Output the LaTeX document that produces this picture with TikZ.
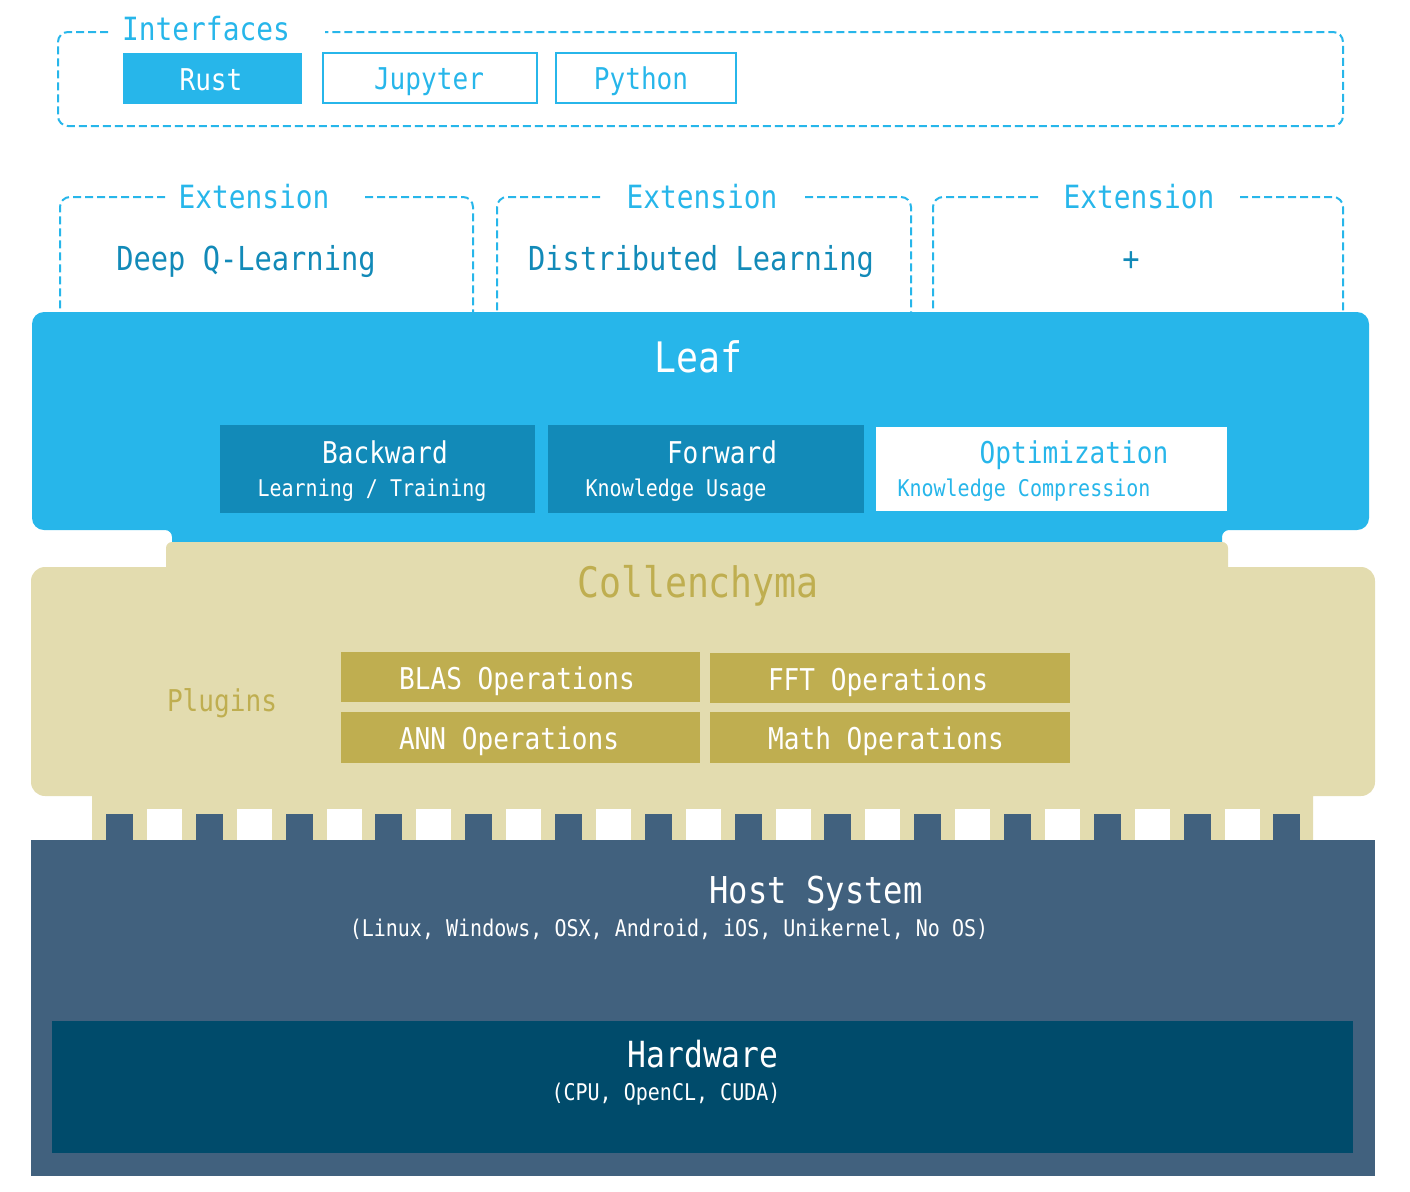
\documentclass[tikz,border=0pt]{standalone}
\usepackage{fontspec}
\newfontfamily\stackfont{DejaVu Sans Mono}[FakeStretch=0.87]
\newcommand{\fsz}[1]{\fontsize{#1}{#1}\selectfont}

\definecolor{leafblue}{HTML}{27B6EA}
\definecolor{leafdark}{HTML}{128AB8}
\definecolor{collbeige}{HTML}{E3DCAF}
\definecolor{collolive}{HTML}{BFAE50}
\definecolor{hostslate}{HTML}{41617E}
\definecolor{hwnavy}{HTML}{004B6B}

\tikzset{
  lbl/.style={inner sep=0pt, anchor=base},
  titletxt/.style={lbl, font=\stackfont\fsz{42}},
  headtxt/.style={lbl, font=\stackfont\fsz{32}},
  itemtxt/.style={lbl, font=\stackfont\fsz{30}},
  subtxt/.style={lbl, font=\stackfont\fsz{23}},
  hosttxt/.style={lbl, font=\stackfont\fsz{37}},
  frame/.style={draw=leafblue, line width=2pt, dash pattern=on 8pt off 4pt, rounded corners=10pt},
}

\begin{document}
\begin{tikzpicture}[x=1pt, y=-1pt]

  \useasboundingbox (0,0) rectangle (1410,1191);

  % Interfaces
  \draw[frame] (108,32) -- (58,32) -- (58,126) -- (1343,126) -- (1343,32) -- (325,32);
  \node[headtxt, text=leafblue] (interfaces) at (206,40) {Interfaces};

  \fill[leafblue] (123,53) rectangle (302,104);
  \draw[leafblue, line width=2pt] (323,53) rectangle (537,103);
  \draw[leafblue, line width=2pt] (556,53) rectangle (736,103);
  \node[itemtxt, text=white] (rust) at (211,90) {Rust};
  \node[itemtxt, text=leafblue] (jupyter) at (429,89) {Jupyter};
  \node[itemtxt, text=leafblue] (python) at (641,89) {Python};

  % Extensions
  \draw[frame] (165,197) -- (60,197) -- (60,320);
  \draw[frame] (365,197) -- (473,197) -- (473,320);
  \draw[frame] (600,197) -- (497,197) -- (497,320);
  \draw[frame] (805,197) -- (911,197) -- (911,320);
  \draw[frame] (1038,197) -- (933,197) -- (933,320);
  \draw[frame] (1240,197) -- (1343,197) -- (1343,320);
  \node[headtxt, text=leafblue] (ext1) at (254,208) {Extension};
  \node[headtxt, text=leafblue] (ext2) at (702,208) {Extension};
  \node[headtxt, text=leafblue] (ext3) at (1139,208) {Extension};
  \node[headtxt, text=leafdark, font=\stackfont\fsz{33}] (dqn) at (246,270) {Deep Q-Learning};
  \node[headtxt, text=leafdark, font=\stackfont\fsz{33}] (dist) at (701,270) {Distributed Learning};
  \node[headtxt, text=leafdark, font=\stackfont\fsz{33}] (more) at (1131,270) {+};

  % Leaf
  \fill[leafblue] (32,420) [rounded corners=12pt] -- (32,312) -- (1369,312) -- (1369,530)
    [rounded corners=7pt] -- (1222,530) [sharp corners] -- (1222,550) -- (172,550)
    [rounded corners=7pt] -- (172,530) [rounded corners=12pt] -- (32,530) -- cycle;
  \node[titletxt, text=white] (leaf) at (698,372) {Leaf};

  \fill[leafdark] (220,425) rectangle (535,513);
  \fill[leafdark] (548,425) rectangle (864,513);
  \fill[white] (876,427) rectangle (1227,511);
  \node[itemtxt, text=white] (backward) at (385,463) {Backward};
  \node[subtxt, text=white] (training) at (372,496) {Learning / Training};
  \node[itemtxt, text=white] (forward) at (722,463) {Forward};
  \node[subtxt, text=white] (usage) at (676,496) {Knowledge Usage};
  \node[itemtxt, text=leafblue] (optim) at (1074,463) {Optimization};
  \node[subtxt, text=leafblue] (compress) at (1024,496) {Knowledge Compression};

  % Collenchyma
  \fill[collbeige] (31,700) [rounded corners=14pt] -- (31,567) [sharp corners] -- (166,567)
    [rounded corners=6pt] -- (166,542) -- (1228,542) [sharp corners] -- (1228,567)
    [rounded corners=14pt] -- (1375,567) -- (1375,796) [sharp corners] -- (1313,796)
    -- (1313,840) -- (92,840) -- (92,796) [rounded corners=14pt] -- (31,796) -- cycle;
  \node[titletxt, text=collolive] (coll) at (698,597) {Collenchyma};
  \node[itemtxt, text=collolive] (plugins) at (222,711) {Plugins};

  \fill[collolive] (341,652) rectangle (700,702);
  \fill[collolive] (710,653) rectangle (1070,703);
  \fill[collolive] (341,712) rectangle (700,763);
  \fill[collolive] (710,712) rectangle (1070,763);
  \node[itemtxt, text=white] (blas) at (517,689) {BLAS Operations};
  \node[itemtxt, text=white] (fft) at (878,690) {FFT Operations};
  \node[itemtxt, text=white] (ann) at (509,749) {ANN Operations};
  \node[itemtxt, text=white] (math) at (886,749) {Math Operations};

  % pins into the host
  \foreach \i in {0,...,12}
    \fill[white] ({147+89.8*\i},809) rectangle ++(35,32);
  \foreach \i in {0,...,13}
    \fill[hostslate] ({106+89.8*\i},814) rectangle ++(27,27);

  % Host System and Hardware
  \fill[hostslate] (31,840) rectangle (1375,1176);
  \node[hosttxt, text=white] (host) at (816,903) {Host System};
  \node[subtxt, text=white] (oslist) at (669,936) {(Linux, Windows, OSX, Android, iOS, Unikernel, No OS)};

  \fill[hwnavy] (52,1021) rectangle (1353,1153);
  \node[hosttxt, text=white, font=\stackfont\fsz{36}] (hw) at (703,1067) {Hardware};
  \node[subtxt, text=white] (devices) at (666,1100) {(CPU, OpenCL, CUDA)};

\end{tikzpicture}
\end{document}
